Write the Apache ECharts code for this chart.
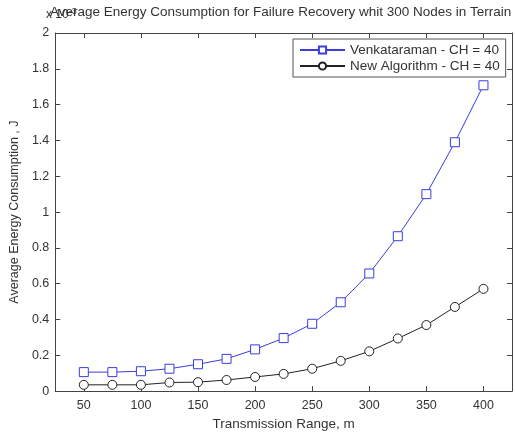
<!DOCTYPE html>
<html>
<head>
<meta charset="utf-8">
<script src="https://cdn.jsdelivr.net/npm/echarts@6/dist/echarts.min.js"></script>
<style>html,body{margin:0;padding:0;background:#fff}#c{width:515px;height:436px}</style>
</head>
<body>
<div id="c"></div>
<script>
const titleText = 'Average Energy Consumption for Failure Recovery whit 300 Nodes in Terrain';
const xLabel = 'Transmission Range, m';
const yLabel = 'Average Energy Consumption , J';
const seriesNames = ['Venkataraman - CH = 40', 'New Algorithm - CH = 40'];
const ranges = [50, 75, 100, 125, 150, 175, 200, 225, 250, 275, 300, 325, 350, 375, 400];
const venkataraman = [0.106, 0.106, 0.111, 0.125, 0.15, 0.18, 0.233, 0.296, 0.376, 0.496, 0.657, 0.865, 1.10, 1.39, 1.708];
const newAlgorithm = [0.035, 0.035, 0.035, 0.048, 0.05, 0.062, 0.079, 0.096, 0.125, 0.169, 0.222, 0.294, 0.369, 0.47, 0.571];
const xTicks = [50, 100, 150, 200, 250, 300, 350, 400];

const chart = echarts.init(document.getElementById('c'));
const font = 'Liberation Sans, Arial, sans-serif';
const axisCol = '#444';
const txtCol = '#333';
function pairs(ys){ return ranges.map((x,i)=>[x, ys[i]]); }

const xBase = {
  type: 'value', min: 25, max: 425,
  axisLine: {show: true, onZero: false, lineStyle: {color: axisCol, width: 1}},
  axisTick: {show: true, inside: true, length: 5, customValues: xTicks, lineStyle: {color: axisCol}},
  splitLine: {show: false}
};
const yBase = {
  type: 'value', min: 0, max: 2, interval: 0.2,
  axisLine: {show: true, onZero: false, lineStyle: {color: axisCol, width: 1}},
  axisTick: {show: true, inside: true, length: 5, lineStyle: {color: axisCol}},
  splitLine: {show: false}
};

chart.setOption({
  animation: false,
  backgroundColor: '#fff',
  textStyle: {fontFamily: font},
  grid: {left: 53, right: 3, top: 33, bottom: 40, containLabel: false},
  graphic: [
    {type: 'text', left: 50, top: 5, style: {text: titleText, font: '13.5px ' + font, fill: txtCol}},
    {type: 'text', left: 46, top: 7, style: {rich: {a: {fontSize: 12, fontFamily: font, fill: txtCol}, b: {fontSize: 9, fontFamily: font, fill: txtCol, verticalAlign: 'top', padding: [0,0,6,0]}}, text: '{a|x 10}{b|-3}'}}
  ],
  legend: {
    orient: 'vertical', left: 293, top: 39, padding: [4, 6, 4, 6],
    itemWidth: 45, itemHeight: 9, itemGap: 2,
    backgroundColor: '#fff', borderColor: '#555', borderWidth: 1,
    textStyle: {fontSize: 13.5, fontFamily: font, color: txtCol},
    data: seriesNames
  },
  xAxis: [
    Object.assign({}, xBase, {
      position: 'bottom',
      name: xLabel, nameLocation: 'middle', nameGap: 23,
      nameTextStyle: {fontSize: 13.5, color: txtCol, fontFamily: font},
      axisLabel: {show: true, customValues: xTicks, margin: 8, fontSize: 12.5, color: txtCol, fontFamily: font}
    }),
    Object.assign({}, xBase, {position: 'top', axisLabel: {show: false}})
  ],
  yAxis: [
    Object.assign({}, yBase, {
      position: 'left',
      name: yLabel, nameLocation: 'middle', nameGap: 29,
      nameTextStyle: {fontSize: 12.5, color: txtCol, fontFamily: font},
      axisLabel: {show: true, margin: 6, fontSize: 12.5, color: txtCol, fontFamily: font,
        formatter: v => (Math.round(v*10)/10).toString()}
    }),
    Object.assign({}, yBase, {position: 'right', axisLabel: {show: false}})
  ],
  series: [
    {name: seriesNames[0], type: 'line', data: pairs(venkataraman),
     xAxisIndex: 0, yAxisIndex: 0,
     symbol: 'rect', symbolSize: 9, showAllSymbol: true,
     lineStyle: {color: '#3c3cdc', width: 1},
     itemStyle: {color: '#fff', borderColor: '#3c3cdc', borderWidth: 1},
     color: '#3c3cdc'},
    {name: seriesNames[1], type: 'line', data: pairs(newAlgorithm),
     xAxisIndex: 0, yAxisIndex: 0,
     symbol: 'circle', symbolSize: 9, showAllSymbol: true,
     lineStyle: {color: '#222', width: 1},
     itemStyle: {color: '#fff', borderColor: '#222', borderWidth: 1},
     color: '#222'}
  ]
});
</script>
</body>
</html>
